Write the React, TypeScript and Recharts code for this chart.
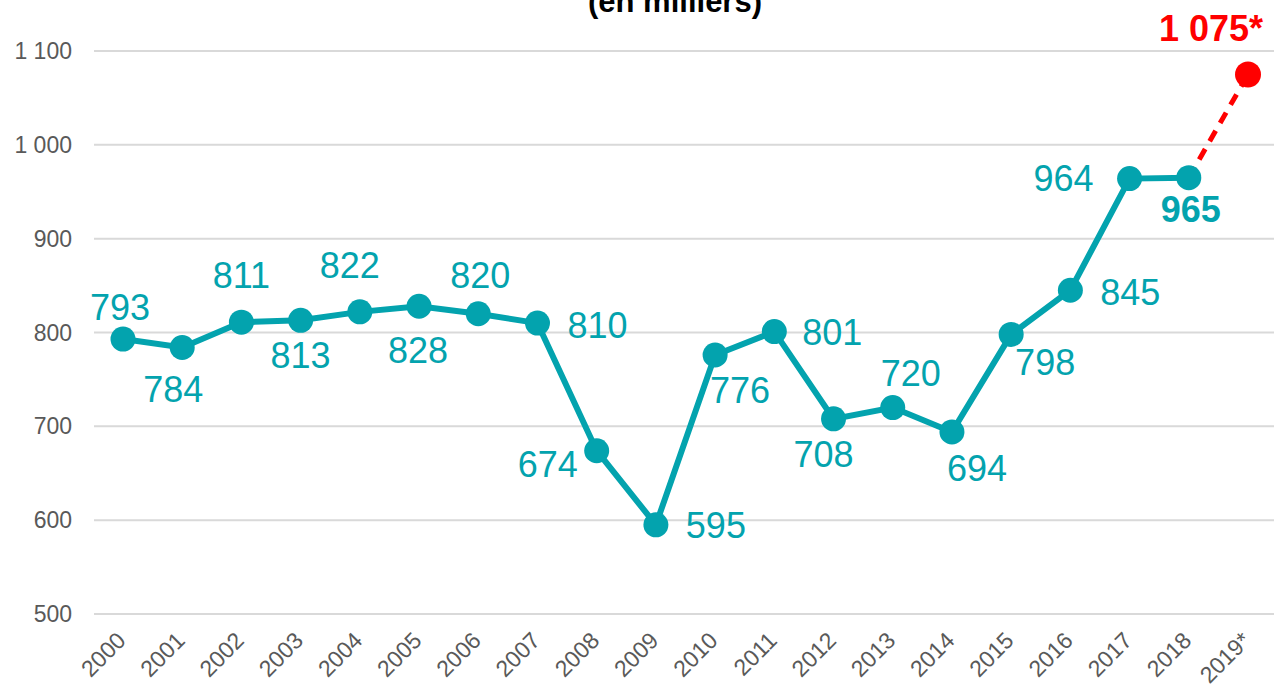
import React from 'react';
import { LineChart, Line, XAxis, YAxis, CartesianGrid } from 'recharts';

// chart values (thousands)
const years = ['2000', '2001', '2002', '2003', '2004', '2005', '2006', '2007', '2008', '2009',
    '2010', '2011', '2012', '2013', '2014', '2015', '2016', '2017', '2018', '2019*'];
const actual = [793, 784, 811, 813, 822, 828, 820, 810, 674, 595,
    776, 801, 708, 720, 694, 798, 845, 964, 965, null];
const forecast = [null, null, null, null, null, null, null, null, null, null,
    null, null, null, null, null, null, null, null, 965, 1075];
const yTicks = [500, 600, 700, 800, 900, 1000, 1100];

// where each value label sits relative to its point
const labelOffsets: [number, number][] = [
    [-3, -32], [-9, 42], [0, -47], [0, 35], [-10, -46], [-1, 44], [2, -38], [60, 2], [-49, 14], [60, 1],
    [25, 35], [58, 1], [-10, 36], [18, -34], [25, 37], [34, 28], [60, 2], [-66, 0], [2, 32], [-37, -46],
];

const TEAL = '#03A3AE';
const RED = '#FF0000';
const FONT = '"Liberation Sans", Arial, sans-serif';

const fmt = (v: number) => String(v).replace(/\B(?=(\d{3})+(?!\d))/g, ' ');

const data = years.map((y, i) => ({ year: y, actual: actual[i], forecast: forecast[i] }));

const ActualLabel = (props: any) => {
    const { x, y, value, index } = props;
    if (value == null) return null;
    const [dx, dy] = labelOffsets[index];
    const bold = index === years.length - 2;
    return (
        <text x={x + dx} y={y + dy} textAnchor="middle" dominantBaseline="central"
            fill={TEAL} fontSize={36} fontWeight={bold ? 'bold' : 'normal'} fontFamily={FONT}>
            {fmt(value)}
        </text>
    );
};

const ForecastLabel = (props: any) => {
    const { x, y, value, index } = props;
    if (value == null || index !== years.length - 1) return null;
    const [dx, dy] = labelOffsets[index];
    return (
        <text x={x + dx} y={y + dy} textAnchor="middle" dominantBaseline="central"
            fill={RED} fontSize={36} fontWeight="bold" fontFamily={FONT}>
            {fmt(value) + '*'}
        </text>
    );
};

const ForecastDot = (props: any) => {
    const { cx, cy, index } = props;
    if (index !== years.length - 1 || cx == null) return <g key={index} />;
    return <circle key={index} cx={cx} cy={cy} r={13} fill={RED} />;
};

const YearTick = (props: any) => {
    const { x, y, payload } = props;
    return (
        <g transform={`translate(${x + 4},${y + 20}) rotate(-45)`}>
            <text x={0} y={0} textAnchor="end" fill="#595959" fontSize={23} fontFamily={FONT}>
                {payload.value}
            </text>
        </g>
    );
};

export default function App() {
    return (
        <div style={{ position: 'absolute', left: 0, top: 0, width: 1274, height: 687, overflow: 'hidden', background: '#fff' }}>
            <div style={{
                position: 'absolute', left: 0, width: 1350, top: -16, textAlign: 'center',
                fontFamily: FONT, fontWeight: 'bold', fontSize: 31, lineHeight: '36px', color: '#000'
            }}>
                (en milliers)
            </div>
            <LineChart width={1277} height={687} data={data}
                margin={{ top: 51, right: 0, bottom: 0, left: 0 }}>
                <CartesianGrid vertical={false} stroke="#d9d9d9" strokeWidth={2} />
                <XAxis dataKey="year" interval={0} tickLine={false} axisLine={false}
                    padding={{ left: 29, right: 29 }} height={73} tick={<YearTick />} />
                <YAxis domain={[500, 1100]} ticks={yTicks} width={94} tickLine={false} axisLine={false}
                    tickMargin={16} tickFormatter={fmt}
                    tick={{ fill: '#595959', fontSize: 23, fontFamily: FONT }} />
                <Line dataKey="forecast" stroke={RED} strokeWidth={5} strokeDasharray="12 9"
                    dot={<ForecastDot />} activeDot={false} label={<ForecastLabel />}
                    isAnimationActive={false} connectNulls={false} />
                <Line dataKey="actual" stroke={TEAL} strokeWidth={6}
                    dot={{ r: 12.5, fill: TEAL, stroke: 'none' }} activeDot={false}
                    label={<ActualLabel />} isAnimationActive={false} />
            </LineChart>
        </div>
    );
}
